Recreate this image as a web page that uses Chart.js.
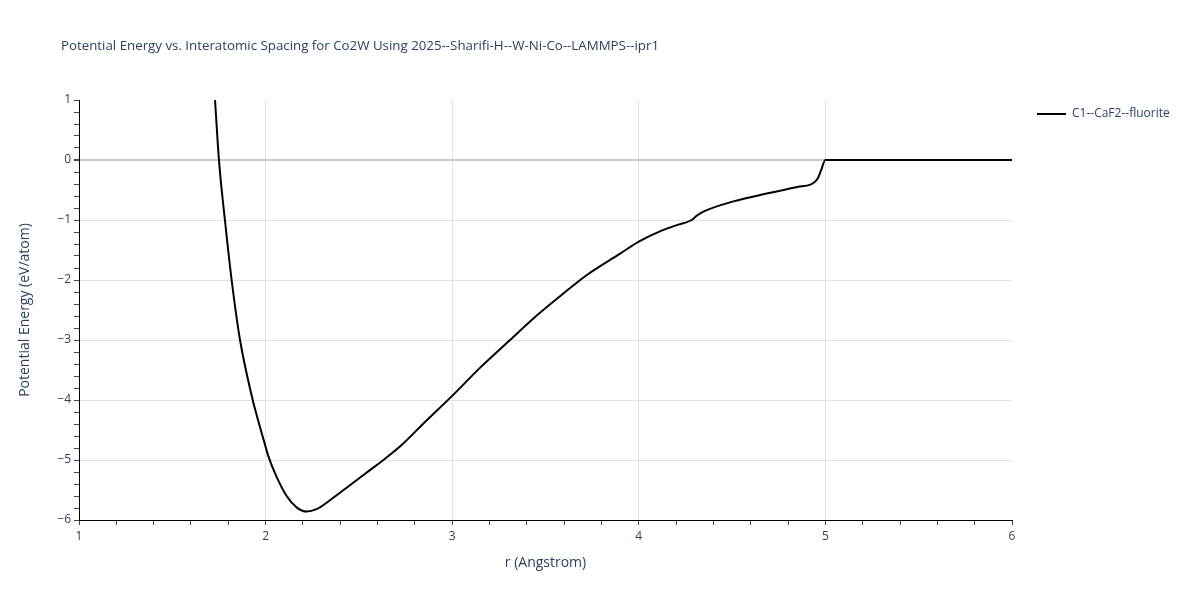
<!DOCTYPE html>
<html>
<head>
<meta charset="utf-8">
<script src="https://cdn.jsdelivr.net/npm/chart.js@4"></script>
<style>
  body { margin: 0; background: #fff; }
  #wrap { width: 1200px; height: 600px; }
</style>
</head>
<body>
<div id="wrap"><canvas id="myChart" width="1200" height="600"></canvas></div>
<script>
// data
var seriesName = 'C1--CaF2--fluorite';
var rValues = [1.729, 1.75, 1.782, 1.818, 1.863, 1.931, 1.952, 2.0, 2.015, 2.059, 2.113, 2.166, 2.22, 2.273, 2.345,
  2.452, 2.55, 2.631, 2.729, 2.85, 2.997, 3.15, 3.31, 3.45, 3.578, 3.72, 3.9, 4.0, 4.113, 4.2, 4.283, 4.31, 4.346,
  4.507, 4.685, 4.85, 4.92, 4.945, 4.96, 4.977, 5.0, 5.5, 6.0];
var energyValues = [1.0, 0.0, -1.0, -2.0, -3.0, -4.0, -4.25, -4.78, -4.94, -5.28, -5.6, -5.79, -5.86, -5.82, -5.67,
  -5.42, -5.19, -5.0, -4.75, -4.38, -3.94, -3.46, -3.0, -2.6, -2.27, -1.92, -1.56, -1.36, -1.19, -1.09, -1.0, -0.93, -0.86,
  -0.69, -0.56, -0.45, -0.41, -0.36, -0.3, -0.17, 0.0, 0.0, 0.0];

var titleText = 'Potential Energy vs. Interatomic Spacing for Co2W Using 2025--Sharifi-H--W-Ni-Co--LAMMPS--ipr1';
var xTitle = 'r (Angstrom)';
var yTitle = 'Potential Energy (eV/atom)';

var fontFam = '"Open Sans", "Liberation Sans", sans-serif';
var textColor = '#2a3f5f';

function isWhole(v) { return Math.abs(v - Math.round(v)) < 1e-6; }

var points = rValues.map(function (r, i) { return { x: r, y: energyValues[i] }; });

// title, axis titles and legend drawn by hand to sit where plotly put them
var decor = {
  id: 'decor',
  afterDraw: function (chart) {
    var c = chart.ctx;
    var area = chart.chartArea;
    c.save();
    c.fillStyle = textColor;
    c.textBaseline = 'middle';
    c.font = '13.3px ' + fontFam;
    c.textAlign = 'left';
    c.fillText(titleText, 61, 46);

    c.font = '14px ' + fontFam;
    c.textAlign = 'center';
    c.fillText(xTitle, (area.left + area.right) / 2, 563);

    c.translate(25, (area.top + area.bottom) / 2);
    c.rotate(-Math.PI / 2);
    c.fillText(yTitle, 0, 0);
    c.restore();

    c.save();
    c.strokeStyle = '#000';
    c.lineWidth = 2;
    c.beginPath();
    c.moveTo(1037, 114);
    c.lineTo(1066, 114);
    c.stroke();
    c.fillStyle = textColor;
    c.font = '12px ' + fontFam;
    c.textBaseline = 'middle';
    c.textAlign = 'left';
    c.fillText(seriesName, 1072, 114);
    c.restore();
  }
};

var ctx = document.getElementById('myChart').getContext('2d');
var myChart = new Chart(ctx, {
  type: 'line',
  data: {
    datasets: [{
      label: seriesName,
      data: points,
      borderColor: '#000000',
      borderWidth: 2,
      pointRadius: 0,
      fill: false,
      cubicInterpolationMode: 'monotone'
    }]
  },
  options: {
    responsive: false,
    animation: false,
    layout: { padding: { left: 0, right: 188, top: 100, bottom: 0 } },
    plugins: { legend: { display: false }, title: { display: false }, tooltip: { enabled: false } },
    scales: {
      x: {
        type: 'linear',
        min: 1,
        max: 6,
        afterFit: function (s) { s.height = 80; },
        border: { display: true, color: '#000', width: 1 },
        grid: {
          color: function (c) {
            var v = c.tick ? c.tick.value : null;
            if (v === null || !isWhole(v) || v === 1 || v === 6) return 'rgba(0,0,0,0)';
            return '#e1e1e1';
          },
          tickColor: '#444',
          tickLength: 5
        },
        ticks: {
          stepSize: 0.2,
          autoSkip: false,
          maxRotation: 0,
          color: textColor,
          font: { size: 12, family: fontFam },
          padding: 4,
          callback: function (v) { return isWhole(v) ? String(Math.round(v)) : ''; }
        }
      },
      y: {
        type: 'linear',
        min: -6,
        max: 1,
        afterFit: function (s) { s.width = 79; },
        border: { display: true, color: '#000', width: 1 },
        grid: {
          color: function (c) {
            var v = c.tick ? c.tick.value : null;
            if (v === null || !isWhole(v) || v === 1 || v === -6) return 'rgba(0,0,0,0)';
            if (Math.abs(v) < 1e-6) return '#c8c8c8';
            return '#e1e1e1';
          },
          lineWidth: function (c) {
            var v = c.tick ? c.tick.value : 1;
            return Math.abs(v) < 1e-6 ? 2 : 1;
          },
          tickColor: '#444',
          tickLength: 5
        },
        ticks: {
          stepSize: 0.2,
          autoSkip: false,
          color: textColor,
          font: { size: 12, family: fontFam },
          padding: 3,
          callback: function (v) {
            if (!isWhole(v)) return '';
            var n = Math.round(v);
            return n < 0 ? '\u2212' + Math.abs(n) : String(n);
          }
        }
      }
    }
  },
  plugins: [decor]
});
</script>
</body>
</html>
